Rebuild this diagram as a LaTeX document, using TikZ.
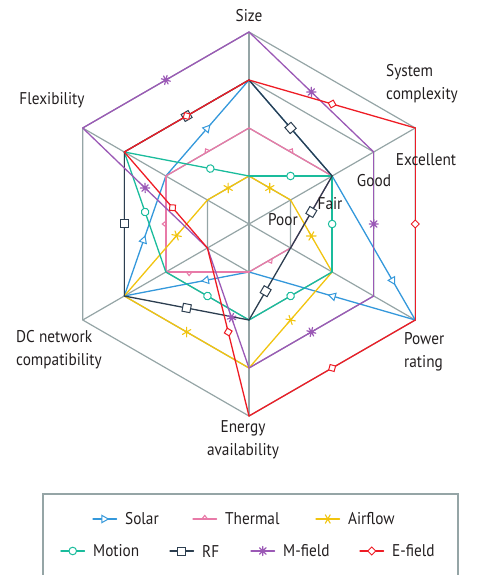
\documentclass[tikz,border=0pt]{standalone}
\usepackage{fontspec}
\setmainfont{PT Sans}[FakeStretch=0.9]
\usetikzlibrary{decorations.markings}

\definecolor{gridc}{RGB}{149,165,166}
\definecolor{txtc}{RGB}{35,31,32}
\definecolor{solarc}{RGB}{52,152,219}
\definecolor{thermalc}{RGB}{232,122,168}
\definecolor{airc}{RGB}{241,196,15}
\definecolor{motionc}{RGB}{26,188,156}
\definecolor{rfc}{RGB}{44,62,80}
\definecolor{mfc}{RGB}{155,89,182}
\definecolor{efc}{RGB}{238,28,37}

% marker shapes, drawn along the line (x = direction of travel)
\newcommand\mksolar[1]{\draw[#1,fill=white,line width=1pt,line join=miter] (3.6pt,0) -- (-3pt,3.7pt) -- (-3pt,-3.7pt) -- cycle;}
\newcommand\mkthermal[1]{\draw[#1,line width=1.1pt] (-2.8pt,0) -- (0,3.6pt) -- (2.8pt,0);}
\newcommand\mkair[1]{\draw[#1,line width=1.1pt] (-4.5pt,0) -- (4.5pt,0) (-2.4pt,-4.2pt) -- (2.4pt,4.2pt) (-2.4pt,4.2pt) -- (2.4pt,-4.2pt);}
\newcommand\mkmotion[1]{\draw[#1,fill=white,line width=1pt] (0,0) circle (3.8pt);}
\newcommand\mkrf[1]{\draw[#1,fill=white,line width=1pt] (-4pt,-4pt) rectangle (4pt,4pt);}
\newcommand\mkmf[1]{\draw[#1,line width=1.2pt] (-4.6pt,0) -- (4.6pt,0) (0,-4.6pt) -- (0,4.6pt) (-3.3pt,-3.3pt) -- (3.3pt,3.3pt) (-3.3pt,3.3pt) -- (3.3pt,-3.3pt);}
\newcommand\mkef[1]{\draw[#1,fill=white,line width=1pt] (-4pt,0) -- (0,4pt) -- (4pt,0) -- (0,-4pt) -- cycle;}

% one series: colour, marker, from/to/marker position
\newcommand\radarline[3]{%
  \foreach \a/\b/\p in {#3}
    \draw[#1, series, postaction={decorate},
      decoration={markings, mark=at position \p with {#2{#1}}}] (\a) -- (\b);
}

\begin{document}
\begin{tikzpicture}[x=48pt,y=48pt,
    grid/.style={gridc, line width=1.2pt},
    series/.style={line width=1.3pt, line cap=round},
    lab/.style={font=\fontsize{17}{23}\selectfont, text=txtc, inner sep=0pt, align=left}]
  \useasboundingbox (-5.1875,-7.3125) rectangle (4.75,4.6667);

  % axis points, levels 1 (Poor) to 4 (Excellent)
  \coordinate (c) at (0,0);
  \foreach \ax/\ang in {sz/90, sc/30, pr/-30, ea/-90, dc/210, fx/150}
    \foreach \k in {1,...,4}
      \coordinate (\ax-\k) at (\ang:\k);

  % grid
  \foreach \k in {1,...,4}
    \draw[grid] (sz-\k) -- (sc-\k) -- (pr-\k) -- (ea-\k) -- (dc-\k) -- (fx-\k) -- cycle;
  \foreach \ax in {sz,sc,pr,ea,dc,fx}
    \draw[grid] (c) -- (\ax-4);

  % series
  \radarline{solarc}{\mksolar}{sz-3/sc-2/0.5, sc-2/pr-4/0.73, pr-4/ea-1/0.5, ea-1/dc-3/0.35, dc-3/fx-2/0.47, fx-2/sz-3/0.5}
  \radarline{thermalc}{\mkthermal}{sz-2/sc-2/0.5, sc-2/pr-1/0.5, pr-1/ea-1/0.5, ea-1/dc-2/0.72, dc-2/fx-2/0.5, fx-2/sz-2/0.5}
  \radarline{airc}{\mkair}{sz-1/sc-1/0.5, sc-1/pr-2/0.5, pr-2/ea-3/0.5, ea-3/dc-3/0.5, dc-3/fx-1/0.63, fx-1/sz-1/0.5}
  \radarline{motionc}{\mkmotion}{sz-1/sc-2/0.5, sc-2/pr-2/0.5, pr-2/ea-2/0.5, ea-2/dc-2/0.5, dc-2/fx-3/0.5, fx-3/sz-1/0.69}
  \radarline{rfc}{\mkrf}{sz-3/sc-2/0.5, sc-2/pr-1/0.5, pr-1/ea-2/0.6, ea-2/dc-3/0.5, dc-3/fx-3/0.5, fx-3/sz-3/0.5}
  \radarline{mfc}{\mkmf}{sz-4/sc-3/0.5, sc-3/pr-3/0.5, pr-3/ea-3/0.5, ea-3/dc-1/0.42, dc-1/fx-4/0.5, fx-4/sz-4/0.5}
  \radarline{efc}{\mkef}{sz-3/sc-4/0.5, sc-4/pr-4/0.5, pr-4/ea-4/0.5, ea-4/dc-1/0.5, dc-1/fx-3/0.42, fx-3/sz-3/0.5}

  % axis labels
  \node[lab] (size) at (0,4.333) {Size};
  \node[lab, anchor=west] (sys) at (2.854,2.917) {System\\complexity};
  \node[lab, anchor=west] (pow) at (3.229,-2.667) {Power\\rating};
  \node[lab, align=center] (ene) at (-0.125,-4.5) {Energy\\availability};
  \node[lab] (dcn) at (-3.958,-2.625) {DC network\\compatibility};
  \node[lab] (flex) at (-4.104,2.583) {Flexibility};

  % level labels
  \node[lab] (poor) at (0.708,0.083) {Poor};
  \node[lab] (fair) at (1.6875,0.4167) {Fair};
  \node[lab] (good) at (2.604,0.896) {Good};
  \node[lab] (exc) at (3.6875,1.333) {Excellent};

  % legend
  \draw[grid] (-4.2917,-5.625) rectangle (4.354,-7.6);
  \foreach \x/\y/\col/\mk/\txt in {-3.25/-6.146/solarc/\mksolar/Solar,
      -1.1667/-6.146/thermalc/\mkthermal/Thermal, 1.396/-6.146/airc/\mkair/Airflow,
      -3.917/-6.8125/motionc/\mkmotion/Motion, -1.646/-6.8125/rfc/\mkrf/RF,
      0.042/-6.8125/mfc/\mkmf/M-field, 2.3125/-6.8125/efc/\mkef/E-field}
    \draw[\col, series, postaction={decorate},
      decoration={markings, mark=at position 0.5 with {\mk{\col}}}]
      (\x,\y) -- ++(0.49,0) node[lab, anchor=west, xshift=8pt] (leg\txt) {\txt};
\end{tikzpicture}
\end{document}
